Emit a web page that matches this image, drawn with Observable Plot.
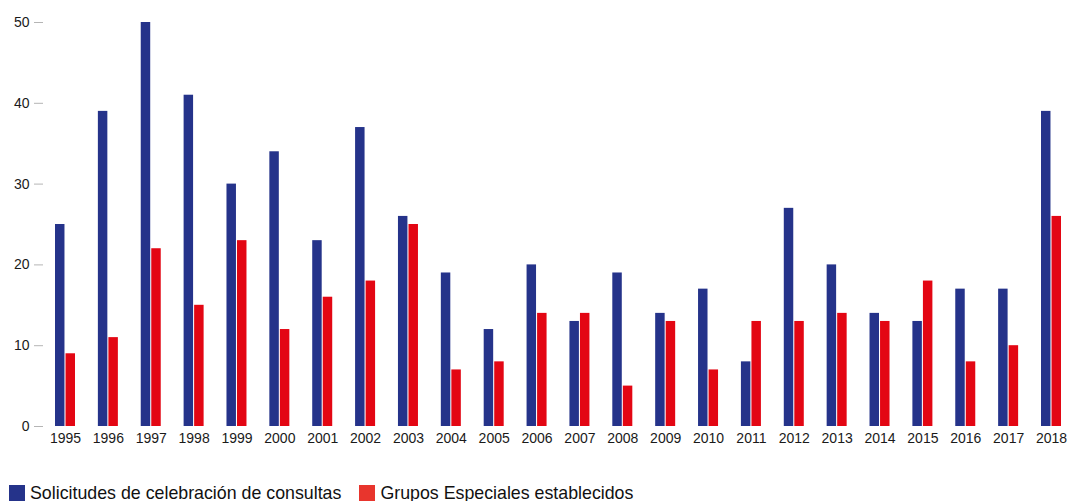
<!DOCTYPE html>
<html>
<head>
<meta charset="utf-8">
<script src="https://cdn.jsdelivr.net/npm/d3@7"></script>
<script src="https://cdn.jsdelivr.net/npm/@observablehq/plot@0.6"></script>
<style>
  body { margin: 0; background: #fff; font-family: "Liberation Sans", Arial, sans-serif; }
  #chart svg { display: block; }
  g[aria-label="y-axis tick"] path { stroke: #b5b5b5; }
  .legend { display: flex; align-items: center; margin-top: 29px; margin-left: 9px; font-size: 17.8px; color: #111; line-height: 18px; }
  .legend .sw { width: 16px; height: 16px; display: inline-block; margin-right: 5px; }
  .legend .item { display: flex; align-items: center; margin-right: 18px; }
</style>
</head>
<body>
<div id="chart"></div>
<script>
const years = ["1995","1996","1997","1998","1999","2000","2001","2002","2003","2004","2005","2006","2007","2008","2009","2010","2011","2012","2013","2014","2015","2016","2017","2018"];
const seriesNames = ["Solicitudes de celebración de consultas", "Grupos Especiales establecidos"];
const consultas = [25, 39, 50, 41, 30, 34, 23, 37, 26, 19, 12, 20, 13, 19, 14, 17, 8, 27, 20, 14, 13, 17, 17, 39];
const grupos = [9, 11, 22, 15, 23, 12, 16, 18, 25, 7, 8, 14, 14, 5, 13, 7, 13, 13, 14, 13, 18, 8, 10, 26];
const yTicks = [0, 10, 20, 30, 40, 50];
const barColors = ["#25338a", "#e30613"];
const legendColors = ["#25338a", "#e8352d"];

const data = [];
years.forEach((y, i) => {
  data.push({year: y, series: seriesNames[0], value: consultas[i]});
  data.push({year: y, series: seriesNames[1], value: grupos[i]});
});

const chart = Plot.plot({
  width: 1067,
  height: 455,
  marginTop: 22,
  marginBottom: 29,
  marginLeft: 44,
  marginRight: 0,
  style: {fontFamily: "'Liberation Sans', Arial, sans-serif", fontSize: "14px", color: "#1a1a1a", background: "#fff"},
  fx: {domain: years, range: [55, 1061], round: false, paddingInner: 0.5335, paddingOuter: 0, axis: "bottom", label: null, tickSize: 0, tickPadding: 7},
  x: {domain: seriesNames, round: false, paddingInner: 0.1, paddingOuter: 0, axis: null},
  y: {domain: [0, 50], axis: null},
  color: {domain: seriesNames, range: barColors},
  marks: [
    Plot.axisY({ticks: yTicks, tickSize: 9, tickPadding: 5, label: null, dx: -12}),
    Plot.barY(data, {fx: "year", x: "series", y: "value", fill: "series"})
  ]
});
document.getElementById("chart").appendChild(chart);

const legend = document.createElement("div");
legend.className = "legend";
seriesNames.forEach((s, i) => {
  const item = document.createElement("span");
  item.className = "item";
  const sw = document.createElement("span");
  sw.className = "sw";
  sw.style.background = legendColors[i];
  item.appendChild(sw);
  item.appendChild(document.createTextNode(s));
  legend.appendChild(item);
});
document.body.appendChild(legend);
</script>
</body>
</html>
